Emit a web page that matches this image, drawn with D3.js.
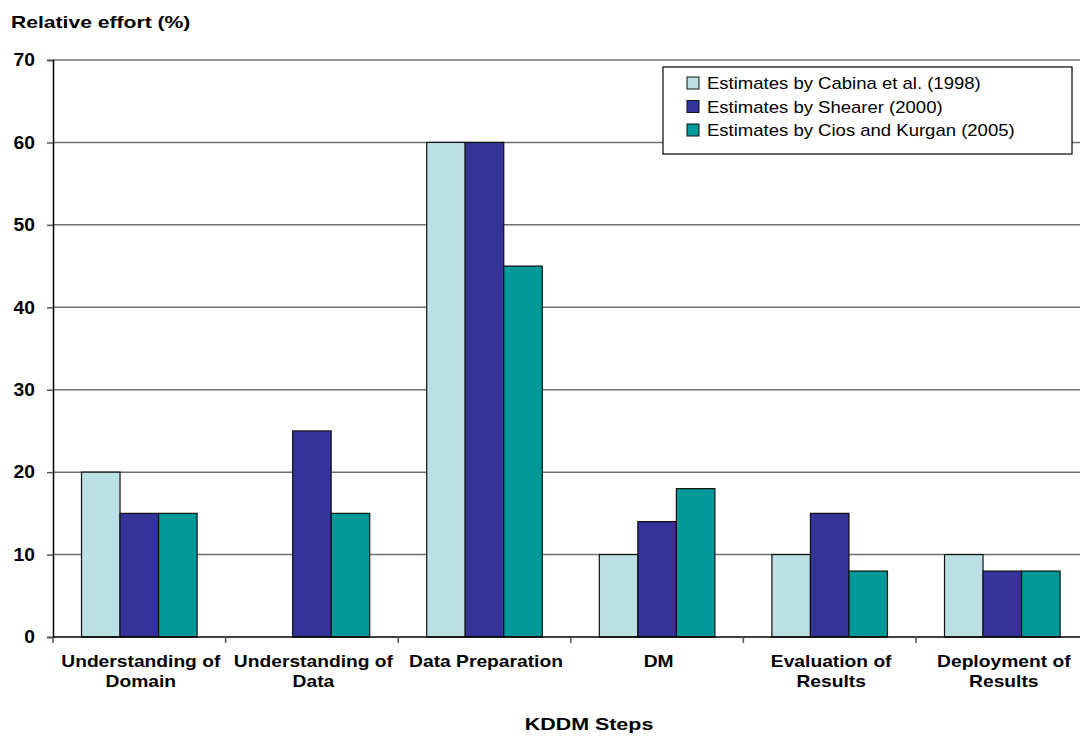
<!DOCTYPE html>
<html>
<head>
<meta charset="utf-8">
<script src="https://cdn.jsdelivr.net/npm/d3@7"></script>
<style>
  html, body { margin: 0; padding: 0; background: #fff; }
  svg { display: block; font-family: "Liberation Sans", Arial, sans-serif; }
</style>
</head>
<body>
<svg id="chart" width="1080" height="736"></svg>
<script>
// KDDM steps and relative effort estimates (%)
const categories = [
  ["Understanding of", "Domain"],
  ["Understanding of", "Data"],
  ["Data Preparation"],
  ["DM"],
  ["Evaluation of", "Results"],
  ["Deployment of", "Results"]
];
const seriesNames = [
  "Estimates by Cabina et al. (1998)",
  "Estimates by Shearer (2000)",
  "Estimates by Cios and Kurgan (2005)"
];
const cabina = [20, null, 60, 10, 10, 10];
const shearer = [15, 25, 60, 14, 15, 8];
const ciosKurgan = [15, 15, 45, 18, 8, 8];
const yTicks = [0, 10, 20, 30, 40, 50, 60, 70];
const colors = ["#BBE0E3", "#333399", "#009999"];

const seriesValues = [cabina, shearer, ciosKurgan];

const svg = d3.select("#chart");
const plotLeft = 53, plotTop = 60, plotBottom = 637, bandW = 172.6;
const plotRight = plotLeft + bandW * categories.length;

// text drawn with a horizontal stretch, anchored at (x, y)
function wideText(parent, x, y, str, opts) {
  const g = parent.append("g")
    .attr("transform", `translate(${x},${y}) scale(${opts.sx || 1},1)`);
  return g.append("text")
    .attr("text-anchor", opts.anchor || "start")
    .attr("font-size", opts.size)
    .attr("font-weight", opts.weight || "normal")
    .attr("fill", "#000")
    .text(str);
}

const x = d3.scaleBand()
  .domain(d3.range(categories.length))
  .range([plotLeft, plotRight])
  .paddingInner(0).paddingOuter(0);
const barW = x.bandwidth() / 4.48;
const xs = d3.scaleBand()
  .domain(d3.range(seriesValues.length))
  .range([(x.bandwidth() - 3 * barW) / 2, (x.bandwidth() + 3 * barW) / 2]);

const y = d3.scaleLinear().domain([0, 70]).range([plotBottom, plotTop]);

// horizontal gridlines
svg.append("g")
  .selectAll("line")
  .data(yTicks.filter(d => d > 0))
  .join("line")
  .attr("x1", plotLeft).attr("x2", plotRight)
  .attr("y1", d => y(d)).attr("y2", d => y(d))
  .attr("stroke", "#707070").attr("stroke-width", 1.5);

// bars
const groups = svg.append("g")
  .selectAll("g")
  .data(categories.map((c, i) => i))
  .join("g")
  .attr("transform", i => `translate(${x(i)},0)`);

groups.selectAll("rect")
  .data(i => seriesValues.map((s, k) => ({ k, v: s[i] })).filter(d => d.v != null))
  .join("rect")
  .attr("x", d => xs(d.k))
  .attr("width", xs.bandwidth())
  .attr("y", d => y(d.v))
  .attr("height", d => y(0) - y(d.v))
  .attr("fill", d => colors[d.k])
  .attr("stroke", "#111")
  .attr("stroke-width", 1.2);

// y axis
const yAxis = svg.append("g")
  .attr("transform", `translate(${plotLeft},0)`)
  .call(d3.axisLeft(y).tickValues(yTicks).tickSize(6).tickFormat(""));
yAxis.select(".domain").attr("stroke", "#000").attr("stroke-width", 1.5);
yAxis.selectAll(".tick line").attr("stroke", "#555").attr("stroke-width", 1.5);
yTicks.forEach(t => {
  wideText(svg, 35, y(t) + 6.3, String(t), { size: 17.5, weight: "bold", anchor: "end", sx: 1.1 });
});

// x axis
const xAxisG = svg.append("g");
xAxisG.append("line")
  .attr("x1", plotLeft).attr("x2", plotRight)
  .attr("y1", y(0)).attr("y2", y(0))
  .attr("stroke", "#000").attr("stroke-width", 1.5);
xAxisG.selectAll("line.tk")
  .data(d3.range(categories.length + 1))
  .join("line")
  .attr("class", "tk")
  .attr("x1", i => plotLeft + i * x.step()).attr("x2", i => plotLeft + i * x.step())
  .attr("y1", y(0)).attr("y2", y(0) + 6)
  .attr("stroke", "#555").attr("stroke-width", 1.5);

categories.forEach((lines, i) => {
  lines.forEach((line, j) => {
    wideText(xAxisG, x(i) + x.bandwidth() / 2 + 1.5, 667 + j * 19.5, line,
      { size: 16.3, weight: "bold", anchor: "middle", sx: 1.18 });
  });
});

// axis titles
wideText(svg, 11, 28.3, "Relative effort (%)", { size: 16, weight: "bold", sx: 1.32 });
wideText(svg, 589, 730, "KDDM Steps", { size: 16, weight: "bold", anchor: "middle", sx: 1.34 });

// legend
const legend = svg.append("g").attr("transform", "translate(663,67)");
legend.append("rect")
  .attr("width", 409).attr("height", 87)
  .attr("fill", "#fff").attr("stroke", "#000").attr("stroke-width", 1.2);
seriesNames.forEach((n, k) => {
  const cy = 16 + k * 23.5;
  legend.append("rect")
    .attr("x", 24).attr("y", cy - 6)
    .attr("width", 12).attr("height", 12)
    .attr("fill", colors[k])
    .attr("stroke", "#111").attr("stroke-width", 1);
  wideText(legend, 44, cy + 6, n, { size: 15.9, sx: 1.165 });
});
</script>
</body>
</html>
